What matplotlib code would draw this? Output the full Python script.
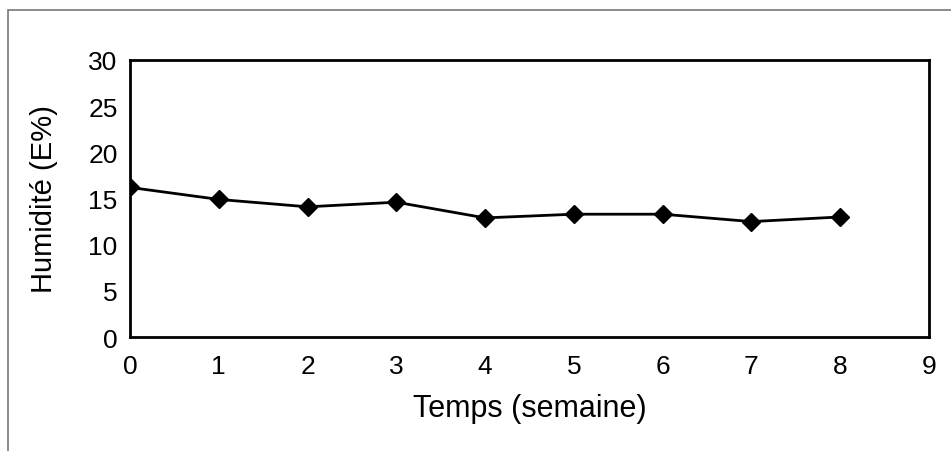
import matplotlib
matplotlib.use("Agg")
import matplotlib.pyplot as plt
from matplotlib.patches import Rectangle

# humidity readings per week
weeks = [0, 1, 2, 3, 4, 5, 6, 7, 8]
humidity = [16.2, 14.9, 14.1, 14.6, 12.9, 13.3, 13.3, 12.5, 13.0]

x_ticks = list(range(0, 10))
y_ticks = [0, 5, 10, 15, 20, 25, 30]

plt.rcParams["font.family"] = ["Liberation Sans", "DejaVu Sans"]

fig = plt.figure(figsize=(9.51, 4.52), dpi=100)
ax = fig.add_axes([130 / 951, 1 - 338 / 452, (929 - 130) / 951, (338 - 61) / 452])

ax.plot(weeks, humidity, color="black", linewidth=2, marker="D",
        markersize=9, markerfacecolor="black", markeredgecolor="black")

ax.set_xlim(0, 9)
ax.set_ylim(0, 30)
ax.set_xticks(x_ticks)
ax.set_yticks(y_ticks)
ax.tick_params(length=0, labelsize=19)
ax.tick_params(axis="x", pad=12)
ax.tick_params(axis="y", pad=9)
for spine in ax.spines.values():
    spine.set_linewidth(2)

ax.set_xlabel("Temps (semaine)", fontsize=22, labelpad=11)
ax.set_ylabel("Humidité (E%)", fontsize=21, labelpad=22)

# outer frame around the whole chart
fig.patches.append(Rectangle((8 / 951, -0.01), 1.0, 1 - 11 / 452 + 0.01,
                             transform=fig.transFigure, fill=False,
                             edgecolor="#777777", linewidth=1.2))

fig.savefig("out.png", dpi=100)
